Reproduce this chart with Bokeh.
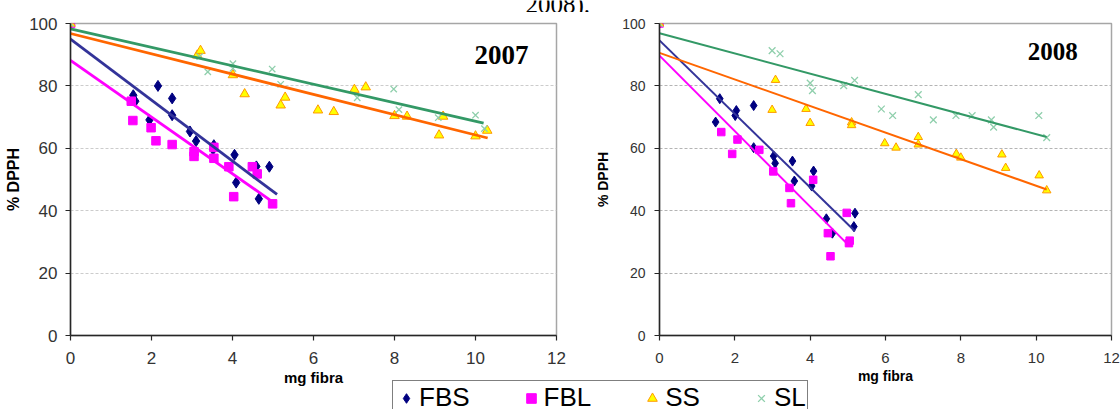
from bokeh.plotting import figure
from bokeh.models import Range1d, FixedTicker, Label, Legend, LegendItem
from bokeh.layouts import row, column
from bokeh.embed import file_html
from bokeh.resources import INLINE

series = ["FBS", "FBL", "SS", "SL"]
x_ticks = [0, 2, 4, 6, 8, 10, 12]
y_ticks = [0, 20, 40, 60, 80, 100]
caption = "2008)."

# ---- 2007 ----
fbs07_x = [0, 1.55, 1.60, 1.95, 2.16, 2.51, 2.51, 2.95, 3.10, 3.52, 3.54, 4.05, 4.09, 4.59, 4.65, 4.91]
fbs07_y = [100, 77.0, 75.1, 69.1, 80.0, 76.0, 70.6, 65.4, 62.3, 59.6, 61.0, 57.9, 49.0, 54.2, 43.8, 54.1]
fbl07_x = [0, 1.50, 1.54, 1.99, 2.11, 2.51, 3.05, 3.05, 3.54, 3.54, 3.91, 4.03, 4.49, 4.61, 4.99]
fbl07_y = [100, 75.1, 68.9, 66.6, 62.4, 61.2, 58.9, 57.4, 60.3, 56.8, 54.1, 44.5, 54.1, 51.8, 42.2]
ss07_x = [0, 3.13, 3.21, 4.01, 4.30, 5.19, 5.30, 6.11, 6.50, 7.01, 7.29, 8.00, 8.31, 9.10, 9.20, 10.00, 10.29]
ss07_y = [100, 89.8, 91.3, 83.5, 77.4, 73.8, 76.3, 72.2, 71.7, 78.8, 79.6, 70.4, 70.2, 64.2, 70.2, 63.9, 65.7]
sl07_x = [0, 3.19, 3.39, 4.01, 4.01, 4.98, 5.19, 7.08, 7.98, 8.11, 9.08, 10.00, 10.22]
sl07_y = [100, 89.4, 84.5, 87.1, 85.6, 85.4, 80.5, 76.2, 79.0, 72.4, 69.8, 70.6, 66.3]
# trendlines 2007 (start at x=0, end at x1)
t07_y0 = [95.0, 88.2, 96.8, 98.3]
t07_x1 = [5.10, 5.06, 10.30, 10.20]
t07_y1 = [45.2, 42.2, 63.3, 68.1]

# ---- 2008 ----
fbs08_x = [0, 1.49, 1.60, 2.01, 2.04, 2.50, 2.50, 3.03, 3.07, 3.53, 3.58, 4.04, 4.09, 4.43, 4.59, 5.16, 5.19]
fbs08_y = [100, 68.4, 75.9, 70.5, 72.1, 73.7, 60.2, 57.5, 55.2, 55.9, 49.5, 47.9, 52.7, 37.4, 32.8, 34.9, 39.2]
fbl08_x = [0, 1.64, 1.93, 2.07, 2.65, 3.02, 3.45, 3.49, 4.08, 4.47, 4.54, 4.97, 5.03, 5.05]
fbl08_y = [100, 65.2, 58.2, 62.8, 59.5, 52.6, 47.3, 42.4, 49.9, 32.8, 25.4, 39.3, 29.6, 30.4]
ss08_x = [0, 2.99, 3.08, 3.89, 4.00, 5.10, 5.10, 5.98, 6.28, 6.87, 6.87, 7.88, 8.00, 9.09, 9.19, 10.08, 10.28]
ss08_y = [100, 72.3, 81.9, 72.6, 68.1, 68.3, 67.4, 61.6, 60.2, 63.6, 61.2, 58.2, 57.0, 58.0, 53.7, 51.3, 46.5]
sl08_x = [0, 2.99, 3.20, 4.00, 4.06, 4.89, 5.18, 5.89, 6.19, 6.87, 7.27, 7.87, 8.30, 8.81, 8.87, 10.07, 10.28]
sl08_y = [100, 91.3, 90.3, 80.9, 78.5, 80.1, 81.8, 72.6, 70.5, 77.2, 69.1, 70.5, 70.5, 69.1, 66.8, 70.5, 63.4]
t08_y0 = [94.6, 89.7, 90.6, 96.9]
t08_x1 = [5.19, 5.03, 10.28, 10.28]
t08_y1 = [33.4, 28.8, 46.8, 63.6]

trend_colors = ["#333399", "#FF00FF", "#FF6600", "#339966"]
marker_styles = [
    dict(marker="diamond", fill_color="#000080", line_color="#000080"),
    dict(marker="square", fill_color="#FF00FF", line_color="#FF00FF"),
    dict(marker="triangle", fill_color="#FFFF00", line_color="#FF9900"),
    dict(marker="x", fill_color=None, line_color="#8FCFAC"),
]


def make_chart(width, height, borders, data, t_y0, t_x1, t_y1, cfg):
    left, right, top, bottom = borders
    p = figure(width=width, height=height, x_range=Range1d(0, 12), y_range=Range1d(0, 100),
               output_backend="svg", toolbar_location=None,
               min_border_left=left, min_border_right=right,
               min_border_top=top, min_border_bottom=bottom)
    p.background_fill_color = "white"
    p.border_fill_color = "white"
    p.outline_line_color = "#a6a6a6"
    p.outline_line_width = 1.5
    p.xgrid.visible = False
    p.ygrid.grid_line_color = cfg["gridc"]
    p.ygrid.grid_line_dash = "3 2"
    p.ygrid.grid_line_width = 1
    p.xaxis.ticker = FixedTicker(ticks=x_ticks)
    p.yaxis.ticker = FixedTicker(ticks=y_ticks)
    for ax in (p.xaxis[0], p.yaxis[0]):
        ax.axis_line_color = "#262626"
        ax.axis_line_width = 1.5
        ax.major_tick_line_color = "#262626"
        ax.major_tick_line_width = 1.2
        ax.major_tick_in = 0
        ax.major_tick_out = 5
        ax.minor_tick_in = 0
        ax.minor_tick_out = 0
        ax.major_label_text_font = "Liberation Sans"
        ax.major_label_text_color = "#333333"
        ax.axis_label_text_font = "Liberation Sans"
        ax.axis_label_text_font_style = "bold"
        ax.axis_label_text_color = "black"
    p.xaxis.major_label_text_font_size = cfg["xfs"]
    p.yaxis.major_label_text_font_size = cfg["yfs"]
    p.xaxis.major_label_standoff = cfg["xstand"]
    p.yaxis.major_label_standoff = cfg["ystand"]
    p.xaxis.axis_label = "mg fibra"
    p.yaxis.axis_label = "% DPPH"
    p.xaxis.axis_label_text_font_size = cfg["xlfs"]
    p.yaxis.axis_label_text_font_size = cfg["ylfs"]
    p.xaxis.axis_label_standoff = cfg["xlstand"]
    p.yaxis.axis_label_standoff = cfg["ylstand"]

    # markers
    for i, (xs, ys) in enumerate(data):
        st = dict(marker_styles[i])
        size = cfg["msize"][i]
        lw = 1.3 if st["marker"] == "x" else 1
        p.scatter(xs, ys, size=size, line_width=lw, **st)
    # trendlines
    for i in range(4):
        p.line([0, t_x1[i]], [t_y0[i], t_y1[i]], line_color=trend_colors[i], line_width=cfg["lw"])

    p.add_layout(Label(x=cfg["title_x"], y=cfg["title_y"], text=cfg["title"],
                       text_font="Liberation Serif", text_font_style="bold",
                       text_font_size=cfg["title_fs"], text_align="center",
                       text_baseline="middle", text_color="black"))
    return p


p1 = make_chart(592, 409, (70, 36, 19, 71),
                [(fbs07_x, fbs07_y), (fbl07_x, fbl07_y), (ss07_x, ss07_y), (sl07_x, sl07_y)],
                t07_y0, t07_x1, t07_y1,
                dict(xfs="17px", yfs="17px", xstand=11, ystand=8, xlfs="15px", ylfs="16px",
                     xlstand=2, ylstand=4, lw=2.8, msize=[11, 8.5, 9.5, 9], gridc="#cccccc",
                     title="2007", title_x=10.64, title_y=90.0, title_fs="27px"))

p2 = make_chart(528, 409, (64, 9, 23, 74),
                [(fbs08_x, fbs08_y), (fbl08_x, fbl08_y), (ss08_x, ss08_y), (sl08_x, sl08_y)],
                t08_y0, t08_x1, t08_y1,
                dict(xfs="15px", yfs="14px", xstand=12, ystand=9, xlfs="14px", ylfs="14px",
                     xlstand=2, ylstand=8, lw=2.0, msize=[10, 7.5, 8.5, 9.5], gridc="#b4b4b4",
                     title="2008", title_x=10.44, title_y=90.9, title_fs="25px"))

# legend strip (overlaid at the bottom)
leg = figure(width=432, height=30, output_backend="svg", toolbar_location=None,
             x_range=Range1d(0, 1), y_range=Range1d(0, 1),
             x_axis_location=None, y_axis_location=None, min_border=0)
leg.grid.visible = False
leg.outline_line_color = None
leg.background_fill_alpha = 0
leg.border_fill_alpha = 0
items = []
for i, name in enumerate(series):
    st = dict(marker_styles[i])
    lw = 1.3 if st["marker"] == "x" else 1
    r = leg.scatter(x=[-5], y=[-5], size=10, line_width=lw, **st)
    items.append(LegendItem(label=name, renderers=[r], index=0))
legend = Legend(items=items, orientation="horizontal", location="top_left",
                margin=1, padding=1, spacing=49, glyph_width=24, glyph_height=26,
                label_standoff=1, label_text_font="Liberation Sans",
                label_text_font_size="26px", label_text_color="black",
                border_line_color="black", border_line_width=1.5,
                background_fill_color="white", background_fill_alpha=1)
leg.add_layout(legend, "center")
leg.margin = (-30, 0, 0, 391)

# caption fragment at the very top (overlaid)
cap = figure(width=100, height=12, output_backend="svg", toolbar_location=None,
             x_range=Range1d(0, 100), y_range=Range1d(0, 12),
             x_axis_location=None, y_axis_location=None, min_border=0)
cap.grid.visible = False
cap.outline_line_color = None
cap.background_fill_alpha = 0
cap.border_fill_alpha = 0
cap.text(x=[0], y=[8], text=[caption], text_font={"value": "Liberation Serif"},
         text_font_size="25px", text_align="left", text_baseline="alphabetic",
         text_color="black")
cap.margin = (-409, 0, 0, 525)

layout = column(row(p1, p2), leg, cap)
open("out.html", "w").write(file_html(layout, INLINE))
